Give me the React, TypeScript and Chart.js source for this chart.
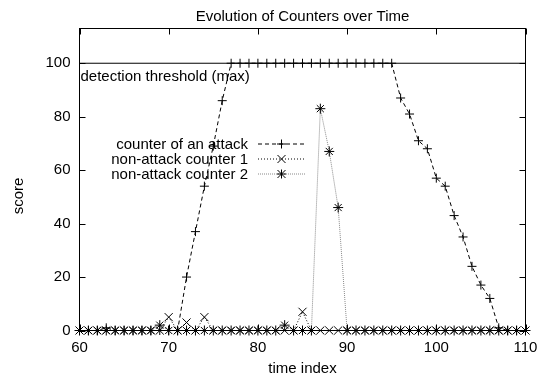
import React, { useEffect, useRef } from 'react';
import { Chart, registerables } from 'chart.js';

Chart.register(...registerables);

const FONT = '"Liberation Sans", Arial, Helvetica, sans-serif';

const titleText = 'Evolution of Counters over Time';
const xTitle = 'time index';
const yTitle = 'score';
const thresholdLabel = 'detection threshold (max)';
const seriesLabels = ['counter of an attack', 'non-attack counter 1', 'non-attack counter 2'];

const xTicks = [60, 70, 80, 90, 100, 110];
const yTicks = [0, 20, 40, 60, 80, 100];

const timeIndex = [
  60, 61, 62, 63, 64, 65, 66, 67, 68, 69,
  70, 71, 72, 73, 74, 75, 76, 77, 78, 79,
  80, 81, 82, 83, 84, 85, 86, 87, 88, 89,
  90, 91, 92, 93, 94, 95, 96, 97, 98, 99,
  100, 101, 102, 103, 104, 105, 106, 107, 108, 109,
  110,
];

const attackCounter = [
  0, 0, 0, 1, 0, 0, 0, 0, 0, 0,
  0, 0, 20, 37, 54, 69, 86, 100, 100, 100,
  100, 100, 100, 100, 100, 100, 100, 100, 100, 100,
  100, 100, 100, 100, 100, 100, 87, 81, 71, 68,
  57, 54, 43, 35, 24, 17, 12, 1, 0, 0,
  0,
];

const nonAttack1 = [
  0, 0, 0, 0, 0, 0, 0, 0, 0, 0,
  5, 0, 3, 0, 5, 0, 0, 0, 0, 0,
  0, 0, 0, 0, 0, 7, 0, 0, 0, 0,
  0, 0, 0, 0, 0, 0, 0, 0, 0, 0,
  0, 0, 0, 0, 0, 0, 0, 0, 0, 0,
  0,
];

const nonAttack2 = [
  0, 0, 0, 0, 0, 0, 0, 0, 0, 2,
  0, 0, 0, 0, 0, 0, 0, 0, 0, 0,
  0, 0, 0, 2, 0, 0, 0, 83, 67, 46,
  0, 0, 0, 0, 0, 0, 0, 0, 0, 0,
  0, 0, 0, 0, 0, 0, 0, 0, 0, 0,
  0,
];

const thresholdX = [60, 110];
const thresholdY = [100, 100];

const pts = (vals: number[]) => vals.map((v, i) => ({ x: timeIndex[i], y: v }));

const legendStyles = [
  { dash: [4, 3], color: '#000', marker: 'cross' },
  { dash: [1, 2], color: '#000', marker: 'crossRot' },
  { dash: [1, 1], color: '#888', marker: 'star' },
];

function drawMarker(ctx: CanvasRenderingContext2D, kind: string, x: number, y: number) {
  ctx.beginPath();
  if (kind === 'cross' || kind === 'star') {
    ctx.moveTo(x - 4.5, y); ctx.lineTo(x + 4.5, y);
    ctx.moveTo(x, y - 4.5); ctx.lineTo(x, y + 4.5);
  }
  if (kind === 'crossRot' || kind === 'star') {
    ctx.moveTo(x - 4, y - 4); ctx.lineTo(x + 4, y + 4);
    ctx.moveTo(x - 4, y + 4); ctx.lineTo(x + 4, y - 4);
  }
  ctx.stroke();
}

const decorPlugin = {
  id: 'decor',
  afterDraw(chart: any) {
    const { ctx, chartArea, scales } = chart;
    const { left, right, top, bottom } = chartArea;
    const xs = scales.x;
    const ys = scales.y;
    ctx.save();
    ctx.strokeStyle = '#000';
    ctx.lineWidth = 1;
    ctx.setLineDash([]);
    // frame
    ctx.strokeRect(left, top, right - left, bottom - top);
    // inward ticks (mirrored)
    ctx.beginPath();
    xTicks.forEach((v) => {
      const px = Math.round(xs.getPixelForValue(v)) + 0.5;
      ctx.moveTo(px, bottom); ctx.lineTo(px, bottom - 6);
      ctx.moveTo(px, top); ctx.lineTo(px, top + 6);
    });
    yTicks.forEach((v) => {
      const py = Math.round(ys.getPixelForValue(v)) + 0.5;
      ctx.moveTo(left, py); ctx.lineTo(left + 6, py);
      ctx.moveTo(right, py); ctx.lineTo(right - 6, py);
    });
    ctx.stroke();

    ctx.fillStyle = '#000';
    ctx.font = `15px ${FONT}`;
    // title
    ctx.textAlign = 'center';
    ctx.textBaseline = 'alphabetic';
    ctx.fillText(titleText, (left + right) / 2, 21);
    // y title
    ctx.save();
    ctx.translate(23, 196);
    ctx.rotate(-Math.PI / 2);
    ctx.fillText(yTitle, 0, 0);
    ctx.restore();
    // threshold label
    ctx.textAlign = 'left';
    ctx.fillText(thresholdLabel, left + 1, ys.getPixelForValue(100) + 18);
    // legend
    const rows = [149, 164, 179];
    rows.forEach((by, i) => {
      ctx.textAlign = 'right';
      ctx.fillStyle = '#000';
      ctx.fillText(seriesLabels[i], 248, by);
      const ly = by - 5;
      const st = legendStyles[i];
      ctx.strokeStyle = st.color;
      ctx.setLineDash(st.dash);
      ctx.beginPath();
      ctx.moveTo(258, ly); ctx.lineTo(305, ly);
      ctx.stroke();
      ctx.setLineDash([]);
      ctx.strokeStyle = '#000';
      drawMarker(ctx, st.marker, 281.5, ly);
    });
    ctx.restore();
  },
};

export default function App() {
  const ref = useRef<HTMLCanvasElement>(null);
  useEffect(() => {
    document.body.style.margin = '0';
    const tickFont = { family: FONT, size: 15 };
    const chart = new Chart(ref.current as HTMLCanvasElement, {
      type: 'line',
      data: {
        datasets: [
          {
            label: 'threshold',
            data: thresholdX.map((x, i) => ({ x, y: thresholdY[i] })),
            borderColor: '#000',
            borderWidth: 1,
            pointRadius: 0,
            order: 4,
            clip: false,
          },
          {
            label: seriesLabels[0],
            data: pts(attackCounter),
            borderColor: '#000',
            borderWidth: 1,
            borderDash: [4, 3],
            pointStyle: 'cross',
            pointRadius: 4.5,
            pointBorderColor: '#000',
            pointBorderWidth: 1,
            tension: 0,
            order: 3,
            clip: false,
          },
          {
            label: seriesLabels[1],
            data: pts(nonAttack1),
            borderColor: '#000',
            borderWidth: 1,
            borderDash: [1, 2],
            pointStyle: 'crossRot',
            pointRadius: 5.7,
            pointBorderColor: '#000',
            pointBorderWidth: 1,
            tension: 0,
            order: 2,
            clip: false,
          },
          {
            label: seriesLabels[2],
            data: pts(nonAttack2),
            borderColor: '#888',
            borderWidth: 1,
            borderDash: [1, 1],
            pointStyle: 'star',
            pointRadius: 5,
            pointBorderColor: '#000',
            pointBorderWidth: 1,
            tension: 0,
            order: 1,
            clip: false,
          },
        ],
      } as any,
      options: {
        animation: false,
        responsive: false,
        events: [],
        layout: { padding: { top: 28.5, right: 11.5, left: 0, bottom: 0 } },
        plugins: {
          legend: { display: false },
          tooltip: { enabled: false },
          title: { display: false },
        },
        scales: {
          x: {
            type: 'linear',
            min: 60,
            max: 110,
            afterBuildTicks: (s: any) => { s.ticks = xTicks.map((v) => ({ value: v })); },
            afterFit: (s: any) => { s.height = 47.5; s.paddingLeft = 0; s.paddingRight = 0; },
            grid: { display: false, drawTicks: false },
            border: { display: false },
            ticks: { color: '#000', font: tickFont, padding: 8, maxRotation: 0, autoSkip: false },
            title: { display: true, text: xTitle, color: '#000', font: tickFont, padding: { top: 0, bottom: 0 } },
          },
          y: {
            type: 'linear',
            min: 0,
            max: 113,
            afterBuildTicks: (s: any) => { s.ticks = yTicks.map((v) => ({ value: v })); },
            afterFit: (s: any) => { s.width = 79.5; s.paddingTop = 0; s.paddingBottom = 0; },
            grid: { display: false, drawTicks: false },
            border: { display: false },
            ticks: { color: '#000', font: tickFont, padding: 9, autoSkip: false },
          },
        },
      } as any,
      plugins: [decorPlugin],
    });
    return () => chart.destroy();
  }, []);
  return (
    <div style={{ position: 'absolute', left: 0, top: 0, width: 537, height: 378, background: '#fff' }}>
      <canvas ref={ref} width={537} height={378} style={{ display: 'block' }} />
    </div>
  );
}
